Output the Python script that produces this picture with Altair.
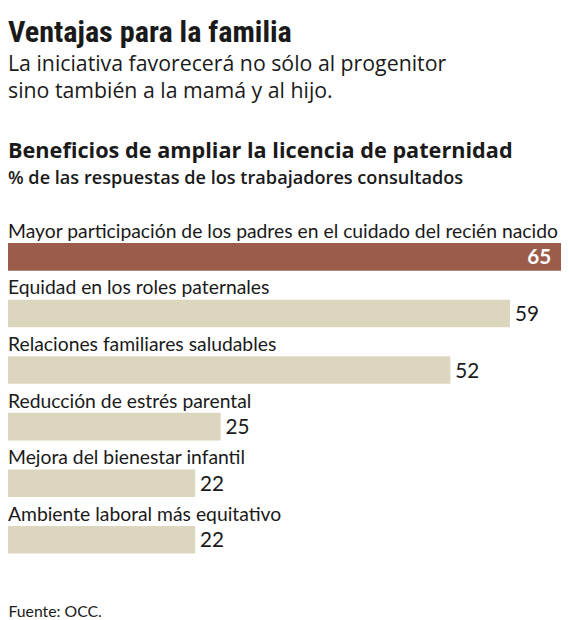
import altair as alt
import pandas as pd

categories = [
    "Mayor participación de los padres en el cuidado del recién nacido",
    "Equidad en los roles paternales",
    "Relaciones familiares saludables",
    "Reducción de estrés parental",
    "Mejora del bienestar infantil",
    "Ambiente laboral más equitativo",
]
values = [65, 59, 52, 25, 22, 22]
kinds = ["destacado", "normal", "normal", "normal", "normal", "normal"]

title_text = "Ventajas para la familia"
subtitle_lines = ["La iniciativa favorecerá no sólo al progenitor", "sino también a la mamá y al hijo."]
chart_title = "Beneficios de ampliar la licencia de paternidad"
chart_subtitle = "% de las respuestas de los trabajadores consultados"
source_text = "Fuente: OCC."

df = pd.DataFrame({"categoria": categories, "valor": values, "tipo": kinds})

INK = "#1a1a1a"
W = 561
H = 344.4

y = alt.Y("categoria:N", sort=categories, axis=None,
          scale=alt.Scale(paddingInner=0, paddingOuter=0))
x = alt.X("valor:Q", scale=alt.Scale(domain=[0, 65], nice=False, zero=True),
          axis=alt.Axis(title=source_text, labels=False, ticks=False, domain=False, grid=False,
                        titleAnchor="start", titleAlign="left", titleFont="Lato",
                        titleFontSize=16, titleFontWeight="normal", titleColor=INK,
                        titlePadding=45))

base = alt.Chart(df)

bars = base.mark_bar(size=28, yOffset=9.3).encode(
    x=x, y=y,
    color=alt.Color("tipo:N", scale=alt.Scale(domain=["destacado", "normal"],
                                              range=["#9b5c4b", "#dcd6bf"]), legend=None),
)

cat_labels = base.mark_text(align="left", baseline="alphabetic", dy=-10, font="Lato",
                            fontSize=19.6, color=INK).encode(
    x=alt.datum(0), y=y, text="categoria:N")

val_out = base.transform_filter("datum.tipo == 'normal'").mark_text(
    align="left", baseline="alphabetic", dx=5, dy=17, font="Lato", fontSize=21, color=INK
).encode(x="valor:Q", y=y, text="valor:Q")

val_in = base.transform_filter("datum.tipo == 'destacado'").mark_text(
    align="right", baseline="alphabetic", dx=-10, dy=17, font="Lato", fontSize=21,
    fontWeight="bold", color="white"
).encode(x="valor:Q", y=y, text="valor:Q")

panel = alt.layer(bars, cat_labels, val_out, val_in).properties(
    width=W, height=H,
    title=alt.TitleParams(
        text=chart_title, subtitle=chart_subtitle, anchor="start",
        font="Open Sans", fontSize=22, fontWeight="bold", color=INK,
        subtitleFont="Open Sans", subtitleFontSize=18.4, subtitleFontWeight=600,
        subtitleColor=INK, subtitlePadding=6, offset=32,
    ),
)

chart = alt.vconcat(panel, spacing=0).properties(
    padding={"top": 6, "left": 0, "right": 0, "bottom": 0},
    title=alt.TitleParams(
        text=title_text, subtitle=subtitle_lines, anchor="start",
        font="Roboto Condensed", fontSize=30.6, fontWeight="bold", color=INK,
        subtitleFont="Open Sans", subtitleFontSize=21.6, subtitleFontWeight="normal",
        subtitleColor=INK, subtitleLineHeight=28, subtitlePadding=5, offset=38,
    ),
).configure_view(stroke=None)

chart.save("out.html", embed_options={"renderer": "svg", "actions": False})
